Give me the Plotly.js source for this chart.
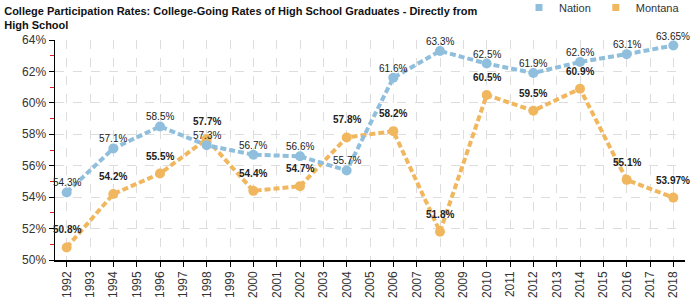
<!DOCTYPE html>
<html><head><meta charset="utf-8">
<script src="https://cdn.plot.ly/plotly-3.0.1.min.js"></script>
<style>html,body{margin:0;padding:0;background:#fff}#chart{width:700px;height:300px}</style>
</head><body><div id="chart"></div>
<script>
const years = [1992,1994,1996,1998,2000,2002,2004,2006,2008,2010,2012,2014,2016,2018];
const nation = [54.3,57.1,58.5,57.3,56.7,56.6,55.7,61.6,63.3,62.5,61.9,62.6,63.1,63.65];
const montana = [50.8,54.2,55.5,57.7,54.4,54.7,57.8,58.2,51.8,60.5,59.5,60.9,55.1,53.97];
const nationLabels = ["54.3%","57.1%","58.5%","57.3%","56.7%","56.6%","55.7%","61.6%","63.3%","62.5%","61.9%","62.6%","63.1%","63.65%"];
const montanaLabels = ["50.8%","54.2%","55.5%","57.7%","54.4%","54.7%","57.8%","58.2%","51.8%","60.5%","59.5%","60.9%","55.1%","53.97%"];
const axisYears = [];
for (let y = 1992; y <= 2018; y++) axisYears.push(y);
const yTicks = [50,52,54,56,58,60,62,64];
const yTickText = yTicks.map(v => v + "%");

const cNation = "#8fbfdd", cMontana = "#f1b75f";

function series(xs, ys, color, name){
  return {x: xs, y: ys, type: "scatter", mode: "lines+markers", name: name, showlegend: false,
    line: {color: color, width: 4, dash: "6px,3px"}, marker: {color: color, size: 10}, cliponaxis: false, hoverinfo: "skip"};
}
const traces = [
  series(years, montana, cMontana, "Montana"),
  series(years, nation, cNation, "Nation"),
  {x:[null], y:[null], type:"scatter", mode:"markers", name:"Nation", marker:{symbol:"square", color:cNation, size:7}},
  {x:[null], y:[null], type:"scatter", mode:"markers", name:"Montana", marker:{symbol:"square", color:cMontana, size:7}}
];

const annotations = [];
years.forEach((yr, i) => {
  annotations.push({x: yr, y: nation[i], text: nationLabels[i], showarrow: false, yanchor: "bottom", yshift: 2,
    font: {family: "Liberation Sans, Arial, sans-serif", size: 10, color: "#222"}});
  annotations.push({x: yr, y: montana[i], text: "<b>" + montanaLabels[i] + "</b>", showarrow: false, yanchor: "bottom", yshift: 10,
    font: {family: "Liberation Sans, Arial, sans-serif", size: 10, color: "#222"}});
});

const layout = {
  width: 700, height: 300,
  margin: {l: 55, r: 15, t: 40, b: 40, autoexpand: false},
  paper_bgcolor: "#fff", plot_bgcolor: "#fff",
  font: {family: "Liberation Sans, Arial, sans-serif", color: "#222"},
  title: {text: "<b>College Participation Rates: College-Going Rates of High School Graduates - Directly from<br>High School</b>",
    x: 0.006, xanchor: "left", yref: "container", y: 0.95, yanchor: "middle", font: {size: 11, color: "#111"}},
  showlegend: true,
  legend: {orientation: "h", x: 1.0, xanchor: "right", yref: "container", y: 0.975, yanchor: "middle", font: {size: 11, color: "#333"},
    itemwidth: 30, tracegroupgap: 0, bgcolor: "rgba(0,0,0,0)"},
  xaxis: {range: [1991.5, 2018.5], tickmode: "array", tickvals: axisYears, ticktext: axisYears.map(String),
    tickangle: -90, ticks: "outside", ticklen: 5, tickcolor: "#000", tickfont: {size: 12, color: "#333"},
    showline: true, linecolor: "#000", linewidth: 1.5, showgrid: true, gridcolor: "#dddddd", griddash: "dash",
    zeroline: false, fixedrange: true},
  yaxis: {range: [50, 64], tickmode: "array", tickvals: yTicks, ticktext: yTickText,
    ticks: "outside", ticklen: 5, tickcolor: "#000", tickfont: {size: 12, color: "#333"},
    showline: true, linecolor: "#000", linewidth: 1.5, showgrid: true, gridcolor: "#dddddd", griddash: "dash",
    zeroline: false, fixedrange: true,
    minor: {dtick: 1, tick0: 51, ticks: "outside", ticklen: 4, tickcolor: "#e02020", showgrid: false}},
  annotations: annotations
};
Plotly.newPlot("chart", traces, layout, {displayModeBar: false, staticPlot: true});
</script></body></html>
